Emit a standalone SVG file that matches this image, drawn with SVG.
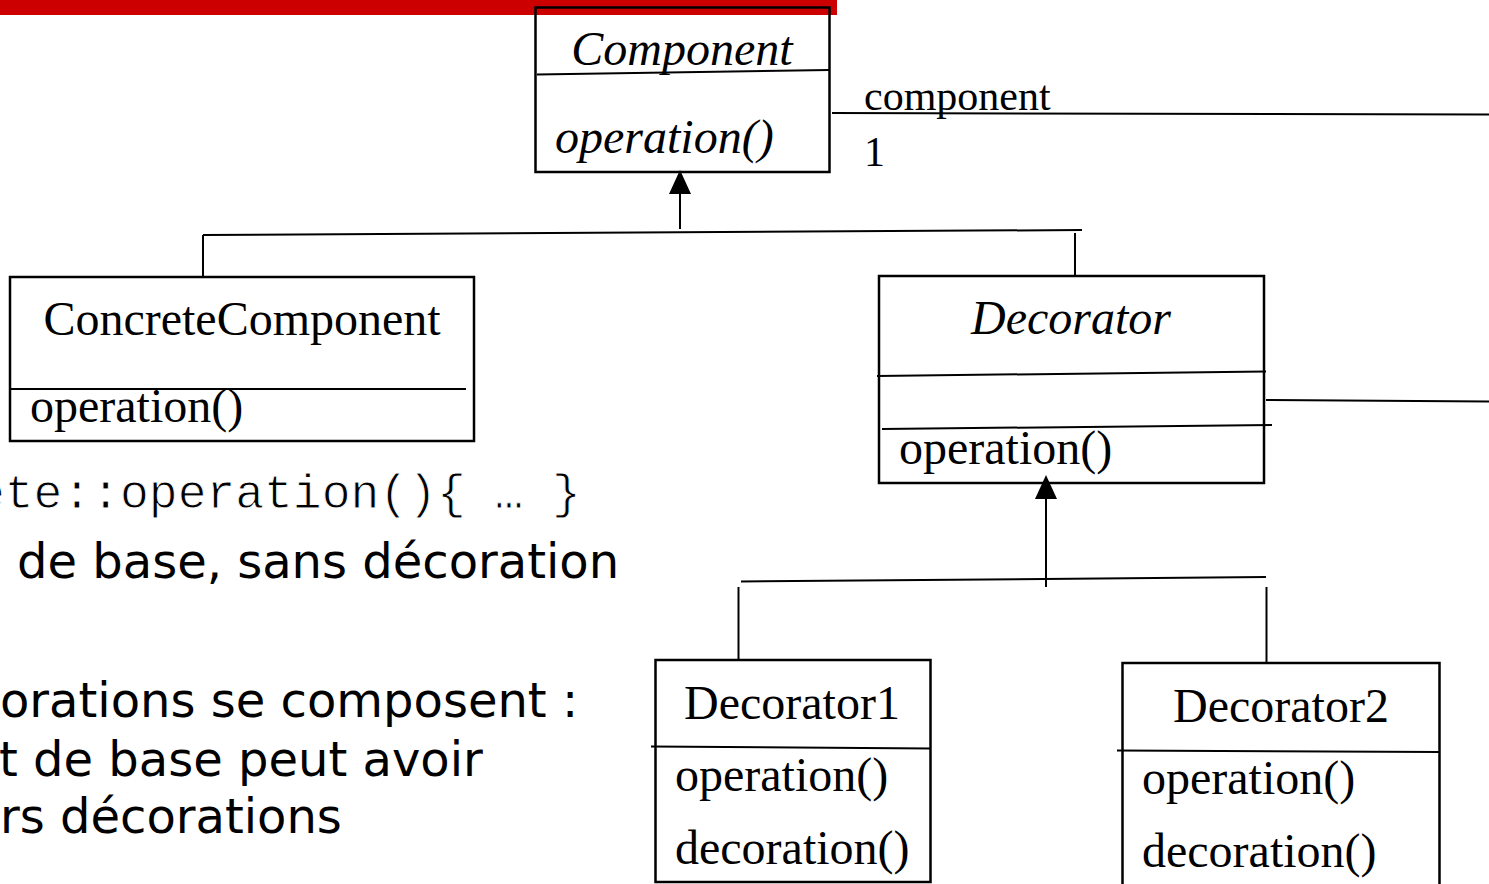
<svg xmlns="http://www.w3.org/2000/svg" width="1489" height="884" viewBox="0 0 1489 884">
  <style>
    .box { fill: none; stroke: #000; stroke-width: 2.5; }
    .div { stroke: #000; stroke-width: 2; fill: none; }
    .ln { stroke: #000; stroke-width: 2; fill: none; }
    .serif { font-family: "Liberation Serif", "Times New Roman", serif; font-size: 48px; fill: #000; }
    .it { font-style: italic; }
    .lbl { font-family: "Liberation Serif", "Times New Roman", serif; font-size: 42px; fill: #000; }
    .code { font-family: "Liberation Mono", "Courier New", monospace; font-size: 48px; fill: #000; stroke: #fff; stroke-width: 0.9; }
    .body { font-family: "DejaVu Sans", "Noto Sans", sans-serif; font-size: 48px; fill: #000; }
    .head { fill: #000; stroke: none; }
  </style>

  <rect width="1489" height="884" fill="#fff"/>
  <!-- title bar -->
  <rect x="0" y="0" width="837" height="15" fill="#cc0000"/>

  <!-- connectors -->
  <g id="connectors">
    <!-- generalization to Component -->
    <line class="ln" x1="680" y1="229" x2="680" y2="192"/>
    <polygon class="head" points="680,170 669,194 691,194"/>
    <line class="ln" x1="203" y1="235" x2="1082" y2="230"/>
    <line class="ln" x1="203" y1="235" x2="203" y2="277"/>
    <line class="ln" x1="1075" y1="233" x2="1075" y2="275"/>
    <!-- component association -->
    <line class="ln" x1="832" y1="113" x2="1489" y2="114.5"/>
    <text class="lbl" x="864" y="110">component</text>
    <text class="lbl" x="864" y="166">1</text>
    <line class="ln" x1="1266" y1="400" x2="1489" y2="401.5"/>
    <!-- generalization to Decorator -->
    <line class="ln" x1="1046" y1="587" x2="1046" y2="497"/>
    <polygon class="head" points="1046,475 1035,499 1057,499"/>
    <line class="ln" x1="741" y1="581.5" x2="1266" y2="577"/>
    <line class="ln" x1="738.5" y1="587" x2="738.5" y2="660"/>
    <line class="ln" x1="1266.5" y1="587" x2="1266.5" y2="662"/>
  </g>

  <!-- Component -->
  <g id="component">
    <rect class="box" x="535.5" y="7.5" width="294" height="164.5"/>
    <line class="div" x1="537" y1="74.5" x2="829" y2="70"/>
    <text class="serif it" x="682" y="65" text-anchor="middle">Component</text>
    <text class="serif it" x="555" y="153">operation()</text>
  </g>

  <!-- ConcreteComponent -->
  <g id="concrete-component">
    <rect class="box" x="10" y="277" width="464" height="164"/>
    <line class="div" x1="10" y1="389" x2="466" y2="389"/>
    <text class="serif" x="242" y="335" text-anchor="middle">ConcreteComponent</text>
    <text class="serif" x="30" y="422">operation()</text>
  </g>

  <!-- Decorator -->
  <g id="decorator">
    <rect class="box" x="879" y="276" width="385" height="207"/>
    <line class="div" x1="877" y1="376" x2="1266" y2="371.5"/>
    <line class="div" x1="882" y1="429" x2="1272" y2="425"/>
    <text class="serif it" x="1071" y="334" text-anchor="middle">Decorator</text>
    <text class="serif" x="899" y="464">operation()</text>
  </g>

  <!-- Decorator1 -->
  <g id="decorator1">
    <rect class="box" x="655.5" y="660" width="275" height="222"/>
    <line class="div" x1="651" y1="746.5" x2="931" y2="748.5"/>
    <text class="serif" x="792" y="719" text-anchor="middle">Decorator1</text>
    <text class="serif" x="675" y="791">operation()</text>
    <text class="serif" x="675" y="864">decoration()</text>
  </g>

  <!-- Decorator2 -->
  <g id="decorator2">
    <path class="box" d="M1122.5,890 V663 H1439.5 V890"/>
    <line class="div" x1="1117" y1="750.5" x2="1440" y2="752"/>
    <text class="serif" x="1281" y="722" text-anchor="middle">Decorator2</text>
    <text class="serif" x="1142" y="794">operation()</text>
    <text class="serif" x="1142" y="867">decoration()</text>
  </g>

  <!-- slide text -->
  <g id="notes">
    <text class="code" x="-24" y="508">ete::operation(){ … }</text>
    <text class="body" x="17" y="578">de base, sans décoration</text>
    <text class="body" x="0" y="717">orations se composent :</text>
    <text class="body" x="-1" y="776">t de base peut avoir</text>
    <text class="body" x="0" y="833">rs décorations</text>
  </g>
</svg>
